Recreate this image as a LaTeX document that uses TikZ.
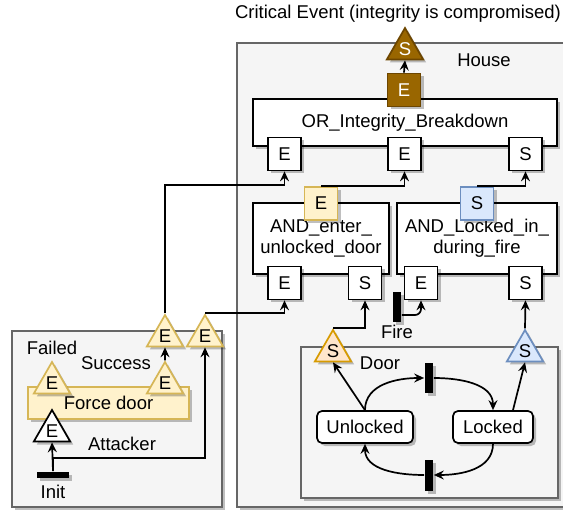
\documentclass[tikz,border=0pt]{standalone}
\usepackage{fontspec}
\setmainfont{Liberation Sans}
\usetikzlibrary{arrows.meta,shapes.geometric,shadows}

\definecolor{boxgray}{HTML}{F5F5F5}
\definecolor{boxline}{HTML}{666666}
\definecolor{evfill}{HTML}{FFF2CC}
\definecolor{evline}{HTML}{D6B656}
\definecolor{stfill}{HTML}{DAE8FC}
\definecolor{stline}{HTML}{6C8EBF}
\definecolor{orfill}{HTML}{FFE6CC}
\definecolor{orline}{HTML}{D79B00}
\definecolor{critfill}{HTML}{996600}
\definecolor{critline}{HTML}{6D4600}

\begin{document}
\begin{tikzpicture}[x=1pt,y=1pt,>={Stealth[length=10pt,width=9pt,inset=3.5pt]},
		line width=1.7pt,font=\fontsize{18.5}{21}\selectfont,
		soft shadow/.style={drop shadow={shadow xshift=3pt,shadow yshift=-3pt,fill=black,opacity=.25}},
		container/.style={draw=boxline,fill=boxgray,soft shadow},
		gate node/.style={rectangle,draw,fill=white,align=center,inner sep=0pt,soft shadow},
		port node/.style={rectangle,draw,fill=white,minimum size=33pt,inner sep=0pt,soft shadow},
		tri node/.style={regular polygon,regular polygon sides=3,minimum size=42pt,inner sep=0pt,draw,soft shadow},
		ev tri/.style={tri node,fill=evfill,draw=evline},
		bar node/.style={rectangle,fill=black,inner sep=0pt,soft shadow},
		state node/.style={rectangle,rounded corners=5pt,draw,fill=white,minimum height=32pt,soft shadow},
		text node/.style={inner sep=0pt}]
	\useasboundingbox (0,0) rectangle (563,-513);
	%
	% Containers: the attacker side and the house with its door.
	\draw[container] (12,-331) rectangle (222,-507);
	\draw[container] (237,-43) rectangle (568,-507);
	\draw[container] (301,-347) rectangle (558,-498);
	%
	\node[text node] (title) at (398,-14) {Critical Event (integrity is compromised)};
	\node[text node] (house) at (484,-60) {House};
	\node[text node] (doorlbl) at (380,-363) {Door};
	\node[text node] (failed) at (52,-348) {Failed};
	\node[text node] (success) at (116,-363) {Success};
	\node[text node] (attlbl) at (122,-444) {Attacker};
	%
	% Gates of the house.
	\node[gate node,minimum width=304pt,minimum height=47pt] (orgate) at (405,-122.5) {OR\_Integrity\_Breakdown};
	\node[gate node,minimum width=136pt,minimum height=71pt] (entergate) at (321,-238.5) {AND\_enter\_\\unlocked\_door};
	\node[gate node,minimum width=160pt,minimum height=71pt] (lockgate) at (477,-238.5) {AND\_Locked\_in\_\\during\_fire};
	%
	% Ports of the gates.
	\node[port node,fill=critfill,draw=critline,text=white] (orOut) at (404,-90) {E};
	\node[port node] (orE1) at (284.5,-154) {E};
	\node[port node] (orE2) at (404.5,-154) {E};
	\node[port node] (orS) at (525.5,-154) {S};
	\node[port node,fill=evfill,draw=evline] (enterOut) at (321,-203.5) {E};
	\node[port node] (enterE) at (284.5,-283) {E};
	\node[port node] (enterS) at (365,-283) {S};
	\node[port node,fill=stfill,draw=stline] (lockOut) at (477,-203.5) {S};
	\node[port node] (lockE) at (421,-283) {E};
	\node[port node] (lockS) at (525.5,-283) {S};
	\node[tri node,fill=critfill,draw=critline,text=white] (crit) at (405,-49) {S};
	%
	% Fire.
	\node[bar node,minimum width=8pt,minimum height=30pt] (fire) at (397,-307) {};
	\node[text node] (firelbl) at (397,-332) {Fire};
	%
	% Door states.
	\node[state node,minimum width=96pt] (unlocked) at (365,-427) {Unlocked};
	\node[state node,minimum width=80pt] (locked) at (493,-427) {Locked};
	\node[bar node,minimum width=8pt,minimum height=30pt] (bar1) at (429,-378) {};
	\node[bar node,minimum width=8pt,minimum height=31pt] (bar2) at (429,-475) {};
	\node[tri node,fill=orfill,draw=orline] (doorS1) at (333,-351) {S};
	\node[tri node,fill=stfill,draw=stline] (doorS2) at (525,-351) {S};
	%
	% Attacker.
	\node[rectangle,fill=evfill,draw=evline,minimum width=161pt,minimum height=32pt,soft shadow] (force) at (108.5,-403) {Force door};
	\node[ev tri] (fdF) at (52,-383) {E};
	\node[ev tri] (fdS) at (165,-383) {E};
	\node[tri node,fill=white] (attacker) at (52,-431) {E};
	\node[ev tri] (outE1) at (165,-336) {E};
	\node[ev tri] (outE2) at (205,-336) {E};
	\node[bar node,minimum width=32pt,minimum height=6pt] (init) at (53,-475) {};
	\node[text node] (initlbl) at (53,-492) {Init};
	%
	% Attacker side into the house.
	\draw[->] (init.north) -- (attacker.south);
	\draw[->] (init.north) -- ++(0,13) -| (outE2.south);
	\draw[->] (fdS.north) -- (outE1.south);
	\draw[->] (outE1.north) -- ++(0,128) -| (orE1.south);
	\draw[->] (outE2.north) -| (enterE.south);
	%
	% Door and fire into the gates.
	\draw[->] (doorS1.north) -| (enterS.south);
	\draw[->] (doorS2.north) -- (lockS.south);
	\draw[->,rounded corners=6pt] ([yshift=-8pt]fire.east) -| (lockE.south);
	%
	% Gates into the OR gate and the critical event.
	\draw[->] (enterOut.north) -| (orE2.south);
	\draw[->] (lockOut.north) -| (orS.south);
	\draw[->] (orOut.north) -- (crit.south);
	%
	% Door states.
	\draw[->] (unlocked.north) -- (doorS1.south);
	\draw[->] ([xshift=20pt]locked.north) -- (doorS2.south);
	\path[->]
		(unlocked.north) edge [out=90,in=180] (bar1.west)
		(bar1.east) edge [out=0,in=90] (locked.north)
		(locked.south) edge [out=-90,in=0] (bar2.east)
		(bar2.west) edge [out=180,in=-90] (unlocked.south);
\end{tikzpicture}
\end{document}
